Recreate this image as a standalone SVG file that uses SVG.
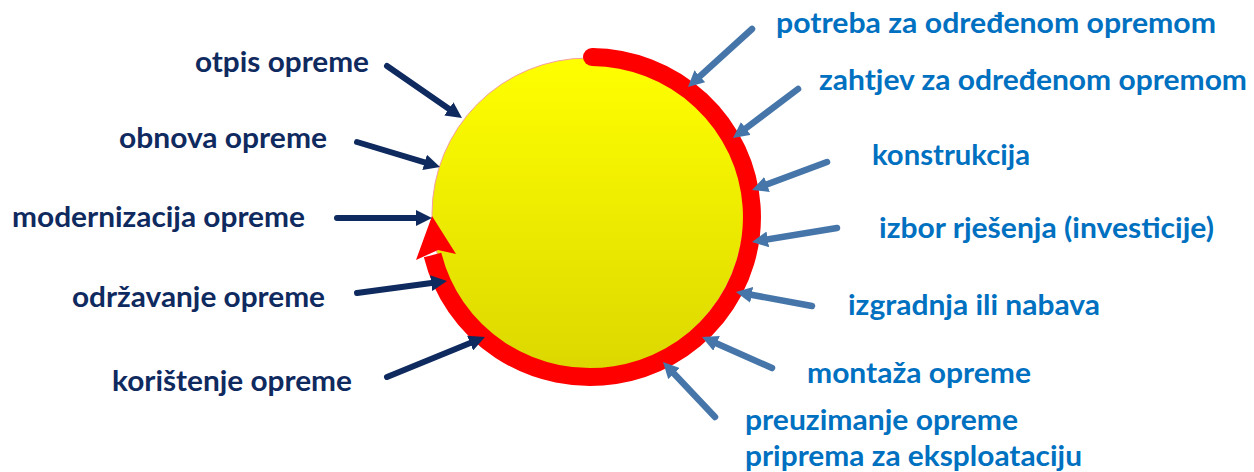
<svg xmlns="http://www.w3.org/2000/svg" width="1254" height="472" viewBox="0 0 1254 472">
<defs>
<linearGradient id="sun" x1="0" y1="0" x2="0" y2="1">
<stop offset="0" stop-color="#FFFF00"/>
<stop offset="1" stop-color="#DCD800"/>
</linearGradient>
<marker id="hl" markerUnits="userSpaceOnUse" markerWidth="18" markerHeight="16" refX="6" refY="8" orient="auto">
<path d="M0,0 L16,8 L0,16 z" fill="#0F2A5F"/>
</marker>
<marker id="hr" markerUnits="userSpaceOnUse" markerWidth="18" markerHeight="16" refX="6" refY="8" orient="auto">
<path d="M0,0 L16,8 L0,16 z" fill="#4676A9"/>
</marker>
<style>
.tl{font-family:Lato,"Open Sans","Liberation Sans",sans-serif;font-weight:700;font-size:29px;fill:#0F2A5F}
.tr{font-family:Lato,"Open Sans","Liberation Sans",sans-serif;font-weight:700;font-size:29px;fill:#0070C0}
.al{stroke:#0F2A5F;stroke-width:6;stroke-linecap:round;fill:none;marker-end:url(#hl)}
.ar{stroke:#4676A9;stroke-width:6.5;stroke-linecap:round;fill:none;marker-end:url(#hr)}
</style>
</defs>
<g id="cycle">
<circle cx="588" cy="214" r="156" fill="url(#sun)" stroke="#F4A0A0" stroke-width="1"/>
<path d="M592,57 A162,160 0 1 1 432.6,255" fill="none" stroke="#FF0000" stroke-width="18" stroke-linecap="butt"/>
<circle cx="592" cy="57" r="9" fill="#FF0000"/>
<polygon points="432,216 456,254 438,250 416,260" fill="#FF0000"/>
</g>
<g id="connectors">
<path class="al" d="M387,66 L453.8,112.3"/>
<path class="al" d="M357,142 L430.4,164.1"/>
<path class="al" d="M337,218 L422,218"/>
<path class="al" d="M357,293 L437.1,282.3"/>
<path class="al" d="M387,377 L475.7,340.8"/>
<path class="ar" d="M752,29 L695.4,80.3"/>
<path class="ar" d="M798,89 L741,132"/>
<path class="ar" d="M827,162 L761.4,186.5"/>
<path class="ar" d="M837,228 L761.9,240.4"/>
<path class="ar" d="M812,306 L745.8,293.8"/>
<path class="ar" d="M772,368 L711.1,341"/>
<path class="ar" d="M715,417 L669.9,369.3"/>
</g>
<g id="n-otpis"><text class="tl" x="195" y="72" textLength="174" lengthAdjust="spacingAndGlyphs">otpis opreme</text></g>
<g id="n-obnova"><text class="tl" x="119" y="148" textLength="208" lengthAdjust="spacingAndGlyphs">obnova opreme</text></g>
<g id="n-modernizacija"><text class="tl" x="12" y="227" textLength="293" lengthAdjust="spacingAndGlyphs">modernizacija opreme</text></g>
<g id="n-odrzavanje"><text class="tl" x="72" y="307" textLength="253" lengthAdjust="spacingAndGlyphs">održavanje opreme</text></g>
<g id="n-koristenje"><text class="tl" x="112" y="391" textLength="240" lengthAdjust="spacingAndGlyphs">korištenje opreme</text></g>
<g id="n-potreba"><text class="tr" x="776" y="33" textLength="440" lengthAdjust="spacingAndGlyphs">potreba za određenom opremom</text></g>
<g id="n-zahtjev"><text class="tr" x="819" y="90" textLength="428" lengthAdjust="spacingAndGlyphs">zahtjev za određenom opremom</text></g>
<g id="n-konstrukcija"><text class="tr" x="872" y="165" textLength="158" lengthAdjust="spacingAndGlyphs">konstrukcija</text></g>
<g id="n-izbor"><text class="tr" x="879" y="238" textLength="335" lengthAdjust="spacingAndGlyphs">izbor rješenja (investicije)</text></g>
<g id="n-izgradnja"><text class="tr" x="848" y="315" textLength="252" lengthAdjust="spacingAndGlyphs">izgradnja ili nabava</text></g>
<g id="n-montaza"><text class="tr" x="807" y="383" textLength="224" lengthAdjust="spacingAndGlyphs">montaža opreme</text></g>
<g id="n-preuzimanje">
<text class="tr" x="745" y="430" textLength="273" lengthAdjust="spacingAndGlyphs">preuzimanje opreme</text>
<text class="tr" x="745" y="466" textLength="337" lengthAdjust="spacingAndGlyphs">priprema za eksploataciju</text>
</g>
</svg>
